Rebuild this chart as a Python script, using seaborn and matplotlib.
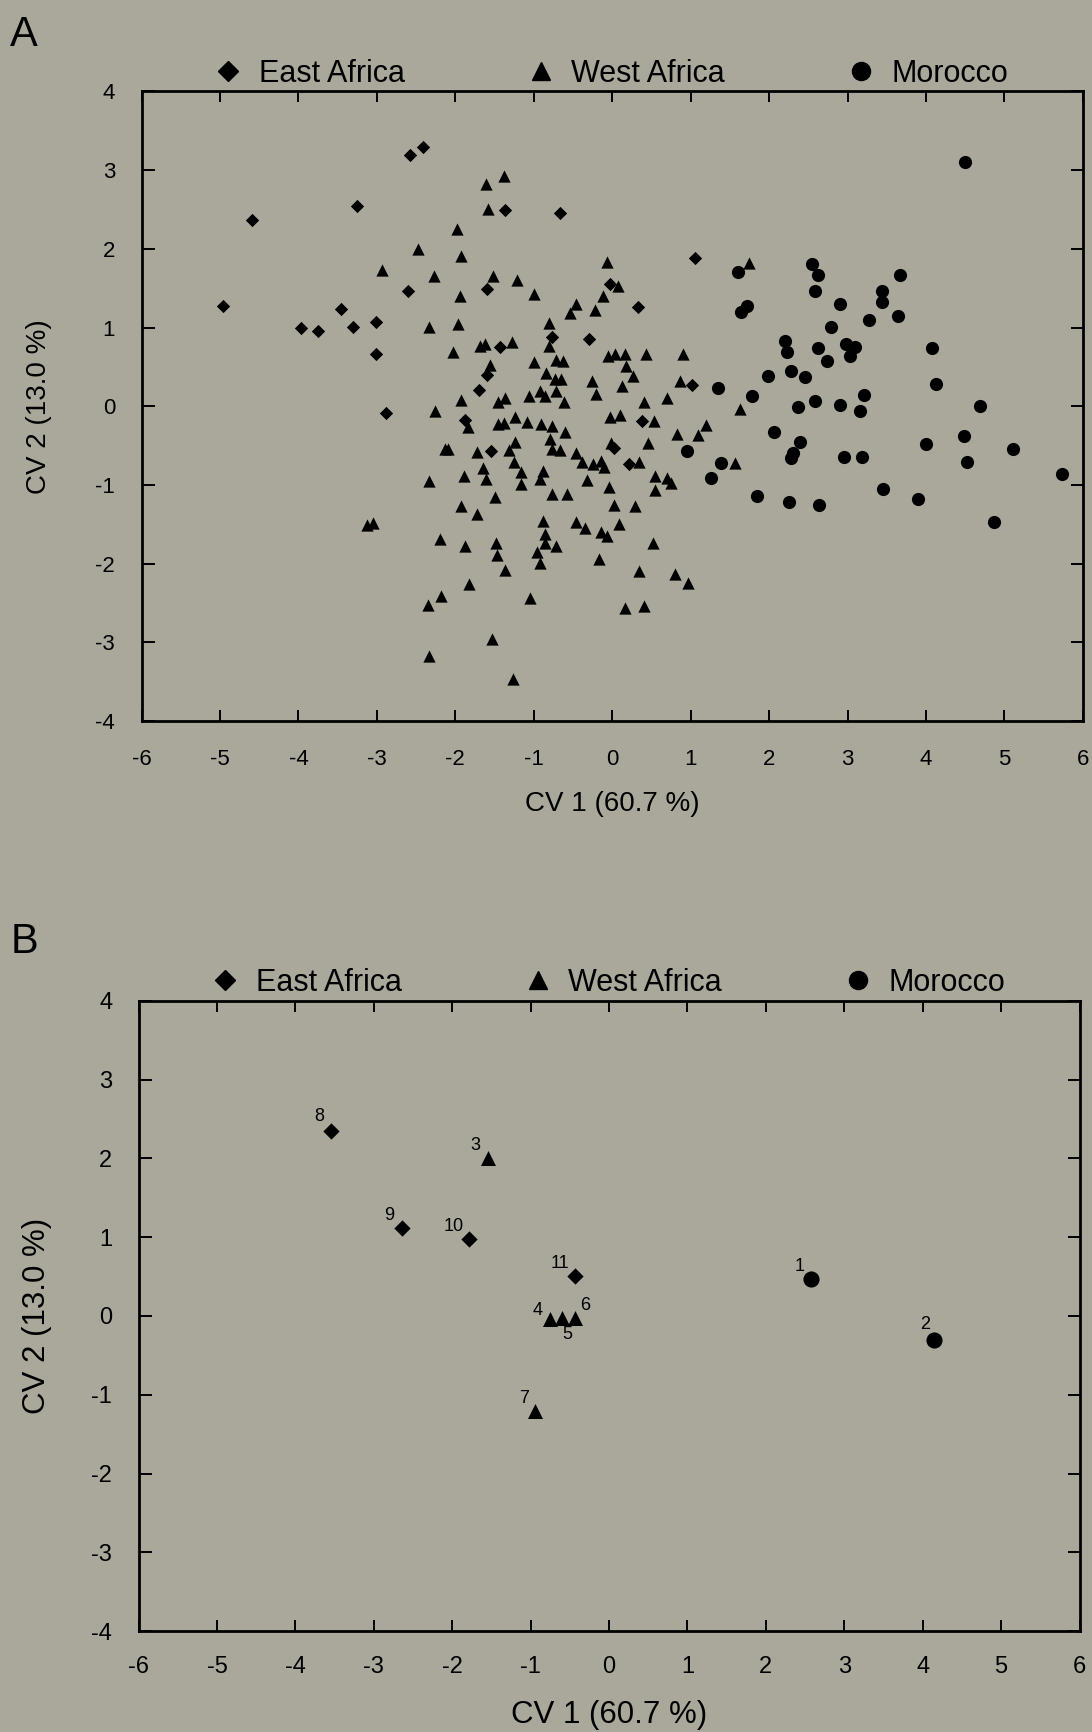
import matplotlib
matplotlib.use('Agg')
import matplotlib.pyplot as plt
from matplotlib.lines import Line2D
import seaborn as sns
import pandas as pd

# Panel A - canonical variate scores of individual specimens
east_x = [-4.96, -4.59, -3.97, -3.75, -3.46, -3.30, -3.25, -3.01, -3.01, -2.88,
          -2.60, -2.58, -2.41, -1.36, -0.66, -1.60, -0.03, -0.77, -0.30, -1.43,
          -1.60, -1.70, 1.06, 0.33, 1.02, -1.88, -1.54, 0.02, 0.38, 0.21]
east_y = [1.27, 2.37, 0.99, 0.96, 1.23, 1.01, 2.55, 1.07, 0.67, -0.09,
          1.46, 3.19, 3.30, 2.49, 2.46, 1.49, 1.55, 0.88, 0.86, 0.75,
          0.40, 0.21, 1.88, 1.26, 0.27, -0.17, -0.57, -0.53, -0.19, -0.74]

west_x = [-2.94, -1.61, -1.38, -1.58, -1.98, -2.47, -1.93, -2.27, -1.52, -1.21,
          -1.00, -1.94, -0.07, 0.07, -0.46, -0.54, -0.12, -0.22, -1.96, -2.33,
          -0.81, -0.81, -1.28, -1.69, -1.62, -2.03, -1.00, -0.71, -0.63, -1.56,
          -0.84, -0.73, -0.65, -0.26, -0.05, 0.03, 0.16, 0.18, 0.12, -0.72,
          -0.92, -0.86, -1.06, -0.61, -0.20, -1.93, -1.45, -1.37, -2.26,
          1.74, 0.43, 0.90, 0.26, 0.86, 0.40, 0.70, 1.63,
          -3.12, -3.05,
          -0.03, 0.10, -1.84, -1.45, -1.38, -1.24, -1.09, -0.91, -0.77, -0.60,
          -0.79, -0.77, -0.66, -2.13, -2.09, -1.72, -1.24, -1.31, -1.25, -1.16,
          -1.16, -1.65, -1.61, -1.89, -2.34, -0.88, -0.92, -1.50, -0.77, -0.57,
          -0.46, -0.39, -0.24, -0.14, -0.10, -0.01, -0.32, -0.04, 0.02, 0.09,
          -0.46, -0.35, -0.14, -0.07, -0.17, 0.16, -1.93, -1.72, -2.20, -1.87,
          -1.48, -1.47, -1.37, -0.88, -0.85, -0.85, -0.72, -0.96, -0.92, -1.82,
          -2.18, -2.35, -1.05, -1.53, -2.33, -1.26,
          0.53, 1.20, 0.83, 1.09, 0.46, 0.34, 0.54, 0.70, 0.75, 0.54,
          0.29, 0.52, 0.34, 0.80, 0.97, 0.40, 1.57]
west_y = [1.73, 2.83, 2.93, 2.51, 2.25, 2.00, 1.91, 1.65, 1.65, 1.60,
          1.43, 1.40, 1.83, 1.53, 1.30, 1.19, 1.40, 1.22, 1.05, 1.01,
          1.06, 0.77, 0.82, 0.77, 0.79, 0.69, 0.56, 0.59, 0.57, 0.52,
          0.42, 0.35, 0.35, 0.32, 0.64, 0.67, 0.67, 0.51, 0.26, 0.20,
          0.19, 0.13, 0.13, 0.06, 0.16, 0.08, 0.05, 0.11, -0.06,
          1.82, 0.66, 0.66, 0.38, 0.32, 0.05, 0.11, -0.04,
          -1.51, -1.48,
          -0.14, -0.11, -0.26, -0.22, -0.21, -0.14, -0.20, -0.23, -0.25, -0.33,
          -0.42, -0.54, -0.56, -0.54, -0.54, -0.58, -0.45, -0.55, -0.71, -0.83,
          -0.99, -0.79, -0.92, -0.89, -0.95, -0.82, -0.93, -1.15, -1.12, -1.12,
          -0.60, -0.71, -0.73, -0.69, -0.77, -0.47, -0.94, -1.02, -1.25, -1.50,
          -1.47, -1.55, -1.60, -1.65, -1.94, -2.57, -1.27, -1.37, -1.69, -1.78,
          -1.74, -1.89, -2.08, -1.46, -1.62, -1.74, -1.77, -1.85, -1.99, -2.26,
          -2.41, -2.53, -2.44, -2.96, -3.18, -3.46,
          -0.19, -0.24, -0.35, -0.37, -0.47, -0.71, -0.89, -0.91, -0.98, -1.06,
          -1.27, -1.74, -2.09, -2.13, -2.24, -2.54, -0.72]

morocco_x = [1.60, 2.55, 2.62, 2.59, 2.90, 1.72, 1.64, 2.79, 2.20, 2.23,
             2.63, 2.74, 2.98, 3.09, 3.03, 2.28, 2.46, 1.99, 1.35, 1.78,
             2.59, 2.37, 2.90, 3.21, 3.16, 3.27,
             4.50, 3.67, 3.44, 3.44, 3.64, 4.08, 4.13, 4.69,
             0.95, 1.39, 1.26, 2.06, 2.39, 2.30, 2.28, 2.96, 3.19, 1.84,
             2.26, 2.64,
             4.48, 4.00, 5.11, 4.52, 3.45, 3.90, 5.73, 4.87]
morocco_y = [1.71, 1.81, 1.67, 1.46, 1.30, 1.28, 1.20, 1.01, 0.83, 0.69,
             0.74, 0.57, 0.79, 0.75, 0.64, 0.45, 0.37, 0.38, 0.23, 0.13,
             0.07, -0.01, 0.02, 0.14, -0.06, 1.09,
             3.10, 1.67, 1.47, 1.32, 1.15, 0.74, 0.28, 0.00,
             -0.57, -0.72, -0.91, -0.33, -0.45, -0.59, -0.66, -0.65, -0.65, -1.14,
             -1.22, -1.25,
             -0.38, -0.48, -0.54, -0.71, -1.05, -1.18, -0.86, -1.47]

# Panel B - population centroids
pop_id = ['1', '2', '3', '4', '5', '6', '7', '8', '9', '10', '11']
pop_region = ['Morocco', 'Morocco', 'West Africa', 'West Africa', 'West Africa',
              'West Africa', 'West Africa', 'East Africa', 'East Africa',
              'East Africa', 'East Africa']
pop_x = [2.57, 4.15, -1.54, -0.75, -0.60, -0.44, -0.94, -3.54, -2.64, -1.79, -0.43]
pop_y = [0.47, -0.30, 2.00, -0.04, -0.02, -0.02, -1.20, 2.35, 1.12, 0.98, 0.51]

regions = ['East Africa', 'West Africa', 'Morocco']
x_label = 'CV 1 (60.7 %)'
y_label = 'CV 2 (13.0 %)'

bg = '#a9a89b'
sns.set_style('ticks')
plt.rcParams['font.family'] = ['Liberation Sans Narrow', 'Liberation Sans', 'DejaVu Sans']
plt.rcParams['axes.unicode_minus'] = False
for k in ['text.color', 'axes.labelcolor', 'xtick.color', 'ytick.color']:
    plt.rcParams[k] = 'black'

markers = {'East Africa': 'D', 'West Africa': '^', 'Morocco': 'o'}
sizes = {'East Africa': 46, 'West Africa': 78, 'Morocco': 90}

df_a = pd.concat([
    pd.DataFrame({'cv1': east_x, 'cv2': east_y, 'region': 'East Africa'}),
    pd.DataFrame({'cv1': west_x, 'cv2': west_y, 'region': 'West Africa'}),
    pd.DataFrame({'cv1': morocco_x, 'cv2': morocco_y, 'region': 'Morocco'}),
], ignore_index=True)
df_b = pd.DataFrame({'id': pop_id, 'region': pop_region, 'cv1': pop_x, 'cv2': pop_y})

fig = plt.figure(figsize=(10.92, 17.32), dpi=100, facecolor=bg)
ax_a = fig.add_axes([0.1296, 0.5837, 0.862, 0.3635])
ax_b = fig.add_axes([0.1269, 0.0582, 0.8617, 0.364])


def style_axes(ax, tick_size, tick_pad, label_size, xlabelpad, ylabelpad):
    ax.set_facecolor(bg)
    ax.set_xlim(-6, 6)
    ax.set_ylim(-4, 4)
    ax.set_xticks(range(-6, 7))
    ax.set_yticks(range(-4, 5))
    for s in ax.spines.values():
        s.set_visible(True)
        s.set_linewidth(2)
        s.set_color('black')
    ax.tick_params(axis='x', direction='in', top=True, bottom=True, length=8,
                   width=1.4, pad=tick_pad, labelsize=tick_size)
    ax.tick_params(axis='y', direction='in', left=True, right=True, length=9,
                   width=1.4, pad=19, labelsize=tick_size)
    ax.set_xlabel(x_label, fontsize=label_size, labelpad=xlabelpad)
    ax.set_ylabel(y_label, fontsize=label_size, labelpad=ylabelpad)
    handles = [Line2D([], [], linestyle='', marker=markers[r], color='black',
                      markersize={'East Africa': 10, 'West Africa': 13, 'Morocco': 13}[r])
               for r in regions]
    ax.legend(handles, regions, loc='center left', bbox_to_anchor=(0.076, 1.028),
              ncol=3, frameon=False, fontsize=22, handlelength=1.0,
              handletextpad=0.5, columnspacing=3.95, borderpad=0, borderaxespad=0)


for r in regions:
    sns.scatterplot(data=df_a[df_a['region'] == r], x='cv1', y='cv2', ax=ax_a,
                    marker=markers[r], s=sizes[r], color='black', linewidth=0,
                    legend=False)
style_axes(ax_a, tick_size=16, tick_pad=20, label_size=20, xlabelpad=15, ylabelpad=31)

for r in regions:
    sns.scatterplot(data=df_b[df_b['region'] == r], x='cv1', y='cv2', ax=ax_b,
                    marker=markers[r], s=sizes[r] * 1.5, color='black',
                    linewidth=0, legend=False)
style_axes(ax_b, tick_size=17, tick_pad=18, label_size=22.5, xlabelpad=16, ylabelpad=28)

# label offsets in points
offsets = {'1': (-8, 9), '2': (-7, 11), '3': (-9, 9), '4': (-9, 6), '5': (4, -12),
           '6': (8, 9), '7': (-8, 9), '8': (-9, 10), '9': (-9, 9), '10': (-11, 9),
           '11': (-11, 9)}
for _, row in df_b.iterrows():
    ax_b.annotate(row['id'], (row['cv1'], row['cv2']), xytext=offsets[row['id']],
                  textcoords='offset points', ha='center', va='center',
                  fontsize=13, family=['Liberation Sans', 'DejaVu Sans'])

fig.text(24 / 1092, 1 - 35.5 / 1732, 'A', fontsize=30, ha='center', va='center')
fig.text(24 / 1092, 1 - 942 / 1732, 'B', fontsize=30, ha='center', va='center')

fig.savefig('out.png', dpi=100, facecolor=bg)
